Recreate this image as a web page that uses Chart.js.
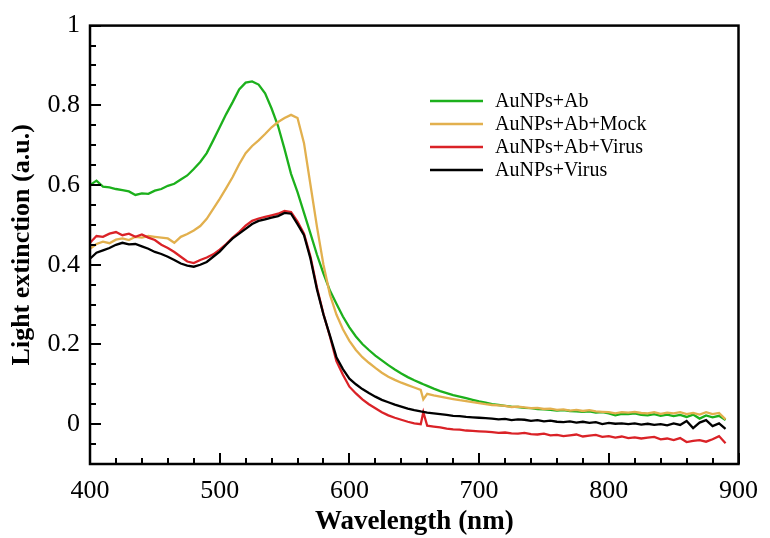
<!DOCTYPE html>
<html>
<head>
<meta charset="utf-8">
<script src="https://cdn.jsdelivr.net/npm/chart.js@4/dist/chart.umd.min.js"></script>
<style>
html,body{margin:0;padding:0;background:#fff;}
canvas{display:block;}
</style>
</head>
<body>
<canvas id="c" width="770" height="538"></canvas>
<script>
// Wavelength (nm)
const wavelengths = [
400,405,410,415,420,425,430,435,440,445,
450,455,460,465,470,475,480,485,490,495,
500,505,510,515,520,525,530,535,540,545,
550,555,560,565,570,575,580,585,590,595,
600,605,610,615,620,625,630,635,640,645,
650,655,657,660,665,670,675,680,685,690,695,
700,705,710,715,720,725,730,735,740,745,
750,755,760,765,770,775,780,785,790,795,
800,805,810,815,820,825,830,835,840,845,
850,855,860,865,870,875,880,885,890
];
const seriesNames = ["AuNPs+Ab","AuNPs+Ab+Mock","AuNPs+Ab+Virus","AuNPs+Virus"];
const abValues = [
0.600,0.611,0.596,0.594,0.590,0.587,0.584,0.575,0.579,0.578,
0.586,0.590,0.598,0.603,0.614,0.624,0.640,0.658,0.680,0.712,
0.745,0.778,0.808,0.840,0.857,0.860,0.852,0.830,0.792,0.748,
0.690,0.628,0.582,0.530,0.478,0.425,0.378,0.335,0.302,0.270,
0.243,0.220,0.201,0.186,0.172,0.160,0.148,0.137,0.127,0.118,
0.110,0.103,0.100,0.096,0.089,0.083,0.078,0.073,0.069,0.065,0.061,
0.057,0.054,0.050,0.048,0.046,0.044,0.043,0.041,0.040,0.038,
0.037,0.036,0.034,0.035,0.033,0.032,0.031,0.032,0.029,0.030,
0.027,0.022,0.026,0.025,0.027,0.023,0.022,0.025,0.021,0.024,
0.020,0.023,0.018,0.024,0.014,0.022,0.017,0.021,0.010
];
const mockValues = [
0.440,0.452,0.458,0.454,0.463,0.466,0.462,0.470,0.468,0.472,
0.470,0.468,0.466,0.455,0.470,0.477,0.486,0.497,0.515,0.540,
0.565,0.592,0.620,0.652,0.680,0.698,0.712,0.728,0.745,0.758,
0.768,0.776,0.768,0.705,0.600,0.495,0.400,0.325,0.275,0.238,
0.209,0.186,0.168,0.154,0.141,0.129,0.119,0.111,0.104,0.098,
0.092,0.086,0.062,0.076,0.072,0.069,0.066,0.063,0.060,0.058,0.055,
0.053,0.050,0.048,0.047,0.046,0.043,0.044,0.042,0.040,0.041,
0.038,0.039,0.036,0.037,0.034,0.036,0.033,0.035,0.032,0.031,
0.030,0.027,0.030,0.029,0.031,0.028,0.027,0.030,0.026,0.029,
0.027,0.030,0.025,0.028,0.024,0.030,0.025,0.028,0.012
];
const abVirusValues = [
0.455,0.472,0.470,0.478,0.482,0.474,0.478,0.470,0.476,0.468,
0.462,0.450,0.442,0.432,0.420,0.408,0.404,0.412,0.418,0.426,
0.438,0.452,0.468,0.482,0.498,0.510,0.516,0.520,0.524,0.528,
0.535,0.532,0.508,0.478,0.420,0.342,0.276,0.220,0.158,0.124,
0.094,0.077,0.062,0.050,0.040,0.030,0.022,0.016,0.011,0.006,
0.002,0.000,0.030,-0.004,-0.006,-0.008,-0.011,-0.013,-0.014,-0.016,-0.017,
-0.018,-0.019,-0.020,-0.022,-0.021,-0.023,-0.024,-0.022,-0.025,-0.026,
-0.024,-0.028,-0.027,-0.030,-0.028,-0.026,-0.031,-0.029,-0.027,-0.032,
-0.030,-0.034,-0.031,-0.035,-0.033,-0.036,-0.034,-0.032,-0.038,-0.036,
-0.040,-0.035,-0.045,-0.042,-0.040,-0.044,-0.038,-0.030,-0.048
];
const virusValues = [
0.415,0.430,0.436,0.442,0.450,0.455,0.451,0.452,0.446,0.440,
0.432,0.427,0.420,0.412,0.403,0.398,0.395,0.400,0.407,0.420,
0.433,0.450,0.466,0.478,0.490,0.502,0.510,0.514,0.518,0.522,
0.530,0.528,0.502,0.474,0.415,0.338,0.275,0.222,0.168,0.138,
0.114,0.100,0.088,0.078,0.069,0.061,0.055,0.049,0.044,0.039,
0.035,0.032,0.031,0.029,0.027,0.025,0.023,0.021,0.020,0.018,0.017,
0.016,0.015,0.014,0.012,0.013,0.010,0.012,0.011,0.008,0.010,
0.007,0.009,0.006,0.005,0.007,0.004,0.006,0.003,0.005,0.000,
0.003,0.001,0.002,0.000,0.002,-0.001,0.001,-0.002,0.000,-0.003,
0.002,-0.002,0.008,-0.010,0.004,0.010,-0.005,0.002,-0.012
];
const xTickLabels = [400,500,600,700,800,900];
const yTickLabels = [0,0.2,0.4,0.6,0.8,1];

const colors = ["#1cb01c","#e2b04e","#da2227","#000000"];
const allValues = [abValues, mockValues, abVirusValues, virusValues];
const toPts = v => wavelengths.map((w,i)=>({x:w,y:v[i]}));

const serif = "'Liberation Serif','Times New Roman',serif";

const frameTicks = {
  id:'frameTicks',
  afterDraw(chart){
    const {ctx, chartArea:a, scales:{x,y}} = chart;
    ctx.save();
    ctx.strokeStyle='#000';
    ctx.lineWidth=2;
    x.ticks.forEach(t=>{
      const px = Math.round(x.getPixelForValue(t.value));
      const major = xTickLabels.some(v=>Math.abs(v-t.value)<1e-6);
      ctx.beginPath(); ctx.moveTo(px,a.bottom); ctx.lineTo(px,a.bottom-(major?11:6)); ctx.stroke();
    });
    y.ticks.forEach(t=>{
      const py = Math.round(y.getPixelForValue(t.value));
      const major = yTickLabels.some(v=>Math.abs(v-t.value)<1e-6);
      ctx.beginPath(); ctx.moveTo(a.left,py); ctx.lineTo(a.left+(major?11:6),py); ctx.stroke();
    });
    ctx.lineWidth=2.5;
    ctx.strokeRect(a.left,a.top,a.right-a.left,a.bottom-a.top);
    // legend
    ctx.font = "20px " + serif;
    ctx.textBaseline='middle';
    ctx.textAlign='left';
    const ly=[101,124,147,170];
    chart.data.datasets.forEach((d,i)=>{
      ctx.strokeStyle=d.borderColor; ctx.lineWidth=2.5;
      ctx.beginPath(); ctx.moveTo(430,ly[i]); ctx.lineTo(483,ly[i]); ctx.stroke();
      ctx.fillStyle='#000';
      ctx.fillText(d.label,495,ly[i]+1);
    });
    ctx.restore();
  }
};

new Chart(document.getElementById('c'),{
  type:'line',
  data:{
    datasets: seriesNames.map((n,i)=>({
      label:n, data:toPts(allValues[i]), borderColor:colors[i], backgroundColor:colors[i],
      borderWidth:2.3, pointRadius:0, tension:0, fill:false, order:3-i
    }))
  },
  options:{
    responsive:false, animation:false, devicePixelRatio:1,
    layout:{padding:{top:22,right:22,left:0,bottom:0}},
    plugins:{legend:{display:false}, tooltip:{enabled:false}},
    scales:{
      x:{
        type:'linear', min:400, max:900,
        grid:{display:false, drawTicks:false},
        border:{display:false},
        ticks:{stepSize:20, autoSkip:false, maxRotation:0, padding:12, color:'#000',
          font:{family:serif, size:26},
          callback:v=> xTickLabels.some(t=>Math.abs(t-v)<1e-6) ? String(v) : ''},
        title:{display:true, text:'Wavelength (nm)', color:'#000', font:{family:serif, size:27, weight:'bold'}, padding:{top:0,bottom:0}},
        afterFit:s=>{ s.height = 74; }
      },
      y:{
        min:-0.1, max:1,
        grid:{display:false, drawTicks:false},
        border:{display:false},
        ticks:{stepSize:0.05, autoSkip:false, padding:10, color:'#000',
          font:{family:serif, size:26},
          callback:v=> yTickLabels.some(t=>Math.abs(t-v)<1e-6) ? String(Math.round(v*10)/10) : ''},
        title:{display:true, text:'Light extinction (a.u.)', color:'#000', font:{family:serif, size:26, weight:'bold'}, padding:{top:7,bottom:0}},
        afterFit:s=>{ s.width = 90; }
      }
    }
  },
  plugins:[frameTicks]
});
</script>
</body>
</html>
